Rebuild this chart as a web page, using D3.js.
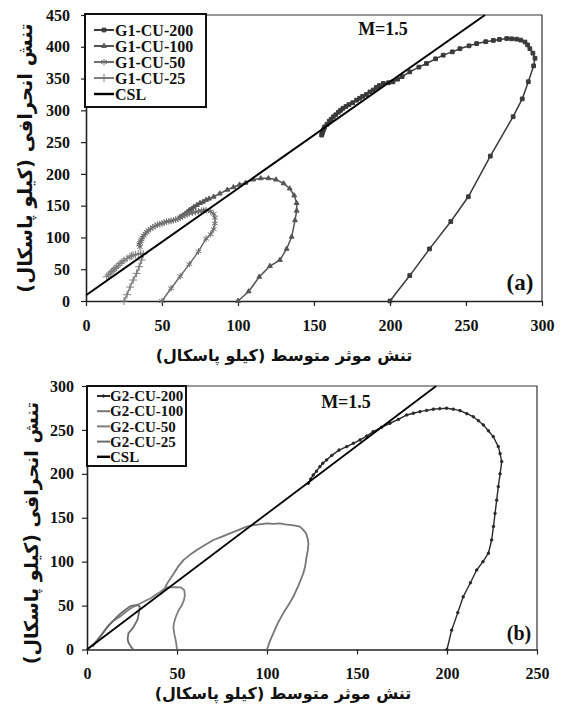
<!DOCTYPE html>
<html>
<head>
<meta charset="utf-8">
<script src="https://cdn.jsdelivr.net/npm/d3@7"></script>
<style>
  html, body { margin: 0; padding: 0; background: #fff; }
  svg { display: block; }
  .tick text { font-family: "Liberation Serif", "Times New Roman", serif; font-weight: bold; font-size: 16px; fill: #111; }
  .fa { font-family: "DejaVu Sans", sans-serif; font-weight: bold; fill: #111; }
  .serif { font-family: "Liberation Serif", "Times New Roman", serif; font-weight: bold; fill: #111; }
</style>
</head>
<body>
<script>
// ---- Panel (a): G1 undrained tests, p' vs q (kPa) ----
const g1Names = ["G1-CU-200", "G1-CU-100", "G1-CU-50", "G1-CU-25"];
const g1Cu200 = [[200,0],[213,40],[226,82],[240,125],[251.5,164],[266,228],[281,290],[287,318],[291,345],[294.5,370],[295.4,382],[294,390],[292,397],[290.5,403],[288.8,407.5],[286,410.5],[283.3,412],[280,412.5],[276.8,413],[272,411.5],[268,410],[263,408],[257,405],[252,401.5],[246,397],[241,392],[235,386.8],[230,381],[224,373.7],[219,368],[213,360.5],[208,353],[205,349],[202,344.8],[199,343.5],[195.6,342.3],[193,339],[191,336],[189,332],[186.8,329],[184.5,325],[182,322],[180,319],[178,316],[175.5,312],[173,309],[171,306],[169,303],[167.5,300],[166,297],[164.3,293],[162.7,289.8],[161.3,286],[160,283],[158.5,278],[157,274],[156.5,271],[156,268],[155.5,264],[155,261]];
const g1Cu100 = [[100,0],[107,15],[114,38],[121,55],[127.6,64.5],[132,82],[135.3,101],[137.5,127],[138.6,142],[138.6,154],[137,166],[134,177],[130,185],[125,191],[120,193],[115,193],[110,191],[105,186],[101,183],[97,179],[93,175],[88,169],[84,164],[81,161],[79,159],[77,156],[75,154],[73,151],[71,148],[69.5,145],[68,143],[66.5,140],[65,137],[63.5,134.5],[62,132]];
const g1Cu50 = [[50,0],[56,20],[62,39],[68,58],[74,78],[79,98],[82,105],[84,113],[84.8,122],[84.8,131],[84,137],[82,141],[79,143],[77.5,142.5],[76,142],[74,141],[72,140],[70,139],[68,138],[66.5,136.5],[65,135],[63.5,133],[62,131],[60.5,129.5],[59,128],[57.5,127],[56,126],[54.5,125.5],[53,125],[51.5,123.5],[50,122],[48.5,121],[47,120],[45.5,118],[44,116],[42.5,113.5],[41,111],[40,108.5],[39,106],[38,103],[37,100],[36.5,97],[36,94],[35.5,91.5],[35,89],[35.5,85]];
const g1Cu25 = [[25,0],[27,10],[29,22],[31,33],[33.3,43.5],[35,54],[36.6,64.5],[37.7,74],[36,75],[34.4,74],[32.5,73],[31,72],[30,71],[28.9,69.7],[27,67],[25,64],[23.7,61.5],[22.4,59],[21.2,56],[20,53],[19,51],[18,48.7],[17,46.5],[16,44],[14.8,41],[13.6,38]];
const g1Csl = [[0,9],[262.5,450]];

// ---- Panel (b): G2 undrained tests ----
const g2Names = ["G2-CU-200", "G2-CU-100", "G2-CU-50", "G2-CU-25"];
const g2Cu200 = [[200,0],[202.6,22],[206,42],[209,60],[213,76],[216.5,90.5],[220,100],[223,109.6],[224.8,124.7],[225.8,140],[226.7,155],[227.6,170],[228.5,185.4],[229.5,200],[230.4,213.9],[229.5,223],[228.5,231],[225.7,242.4],[223,249],[220.2,255.7],[217.5,260.5],[214.6,265],[211,268.5],[207.2,272],[203.5,273.6],[199.8,274.7],[196,274.2],[192.4,273.6],[188.7,272.2],[185,270.8],[181.3,269],[177.6,267],[173,262],[168.3,257.6],[163.6,253],[159,248],[155.4,243],[151.7,238.6],[148,234.8],[144.3,231],[140,227],[136,221],[133.1,215.8],[131,212],[129.4,208.2],[127.5,203],[125.7,198.7],[124.3,194],[123,189.3]];
const g2Cu100 = [[100,0],[101.5,9],[103.5,18.4],[106,30],[109,41.2],[112,51],[114.6,60],[117.5,73],[120.2,86.8],[121.3,96],[122,105.7],[122.7,113],[123,121],[122.5,127],[121.7,132.3],[120,136.5],[118.3,139.9],[115.5,141],[112.8,141.8],[110,142.5],[107.2,143.7],[103.5,143],[99.8,143.7],[96,142.5],[92.5,141.5],[88.7,139.9],[84,136],[79.4,132.3],[75,128.5],[70.2,124.7],[65.5,119],[61,113.3],[57,107.5],[53.7,102],[50.5,94],[48.3,86.8],[46.5,81],[44.6,75.4],[42.8,67.8],[41,63]];
const g2Cu50 = [[50,0],[49.5,8],[48.5,18],[48,25],[48.3,30],[49.3,37],[51,45],[52.6,50],[53.9,56.4],[54.4,62],[54,67.8],[52,70.8],[48.5,71],[44.6,70.8],[42.5,68.5],[40.9,65.8],[38,62],[35.4,58.3],[32.5,55.5],[29.8,52.6],[27,50],[24,46.5],[20.6,41.2],[18.7,38],[16.8,35.5],[15,33],[13.2,29.8],[11.2,25],[9.4,20.3],[7.5,15.5],[5.7,10.8],[3.8,6.5],[2,3.2],[0.5,0.5]];
const g2Cu25 = [[25.7,0],[24.5,3],[23,8],[22.6,12],[23,18.5],[24.5,22],[26,26],[27,30],[28,33.6],[28.6,39],[29,45],[29.4,48.8],[28,50.3],[26,50.3],[24.3,49.5],[21.5,45.5],[18.7,41],[16.8,37.5],[15,33.6],[13,29.5],[11.3,26],[9.3,20],[7.4,14.6],[5,8.5],[3,3]];
const g2Csl = [[0,0],[194,300]];

const xTicksA = [0, 50, 100, 150, 200, 250, 300];
const yTicksA = [0, 50, 100, 150, 200, 250, 300, 350, 400, 450];
const xTicksB = [0, 50, 100, 150, 200, 250];
const yTicksB = [0, 50, 100, 150, 200, 250, 300];

const xTitle = "تنش موثر متوسط (کیلو پاسکال)";
const yTitle = "تنش انحرافی (کیلو پاسکال)";
const slopeText = "M=1.5";

const svg = d3.select("body").append("svg").attr("width", 563).attr("height", 710);

function drawPanel(cfg) {
  const x = d3.scaleLinear().domain(cfg.xDomain).range([cfg.left, cfg.right]);
  const y = d3.scaleLinear().domain(cfg.yDomain).range([cfg.bottom, cfg.top]);
  const g = svg.append("g");

  // frame (top + right)
  g.append("path")
    .attr("d", `M${cfg.left},${cfg.top}H${cfg.right}V${cfg.bottom}`)
    .attr("fill", "none").attr("stroke", "#333").attr("stroke-width", 1.2);

  const xAxis = g.append("g").attr("transform", `translate(0,${cfg.bottom})`)
    .call(d3.axisBottom(x).tickValues(cfg.xTicks).tickSize(5).tickPadding(cfg.xPad).tickSizeOuter(0));
  const yAxis = g.append("g").attr("transform", `translate(${cfg.left},0)`)
    .call(d3.axisLeft(y).tickValues(cfg.yTicks).tickSize(5).tickPadding(cfg.yPad).tickSizeOuter(0));
  [xAxis, yAxis].forEach(a => {
    a.select(".domain").attr("stroke", "#222").attr("stroke-width", 1.6);
    a.selectAll(".tick line").attr("stroke", "#222").attr("stroke-width", 1.2);
  });

  const line = d3.line().x(d => x(d[0])).y(d => y(d[1]));
  const plot = g.append("g");

  cfg.series.forEach(s => {
    plot.append("path").datum(s.data)
      .attr("d", line).attr("fill", "none")
      .attr("stroke", s.color).attr("stroke-width", s.width)
      .attr("stroke-linejoin", "round");
    if (s.symbol) {
      const sym = d3.symbol().type(s.symbol).size(s.size);
      plot.selectAll(null).data(s.data).join("path")
        .attr("transform", d => `translate(${x(d[0])},${y(d[1])})`)
        .attr("d", sym)
        .attr("fill", s.filled ? s.color : "none")
        .attr("stroke", s.color).attr("stroke-width", 1);
    }
  });

  // critical state line
  plot.append("path").datum(cfg.csl).attr("d", line)
    .attr("fill", "none").attr("stroke", "#000").attr("stroke-width", cfg.cslWidth);

  // legend
  const L = cfg.legend;
  g.append("rect").attr("x", L.x).attr("y", L.y).attr("width", L.w).attr("height", L.h)
    .attr("fill", "#fff").attr("stroke", "#111").attr("stroke-width", 2);
  const items = cfg.series.map(s => s).concat([{ name: "CSL", color: "#000", width: 2.2 }]);
  items.forEach((s, i) => {
    const cy = L.row0 + i * L.step;
    g.append("line").attr("x1", L.lx1).attr("x2", L.lx2).attr("y1", cy).attr("y2", cy)
      .attr("stroke", s.color).attr("stroke-width", s.name === "CSL" ? 2.4 : 2);
    if (s.symbol) {
      g.append("path").attr("transform", `translate(${(L.lx1 + L.lx2) / 2},${cy})`)
        .attr("d", d3.symbol().type(s.symbol).size(s.size))
        .attr("fill", s.filled ? s.color : "none").attr("stroke", s.color).attr("stroke-width", 1);
    }
    g.append("text").attr("class", "serif").attr("x", L.tx).attr("y", cy)
      .attr("dy", "0.35em").attr("font-size", L.font).text(s.name);
  });

  g.append("text").attr("class", "serif").attr("x", cfg.mPos[0]).attr("y", cfg.mPos[1])
    .attr("text-anchor", "middle").attr("dy", "0.35em").attr("font-size", 18).text(slopeText);
  g.append("text").attr("class", "serif").attr("x", cfg.tagPos[0]).attr("y", cfg.tagPos[1])
    .attr("text-anchor", "middle").attr("dy", "0.35em").attr("font-size", cfg.tagFont).text(cfg.tag);

  g.append("text").attr("class", "fa").attr("direction", "rtl")
    .attr("x", cfg.xTitlePos[0]).attr("y", cfg.xTitlePos[1])
    .attr("text-anchor", "middle").attr("dy", "0.35em").attr("font-size", cfg.titleFont).text(xTitle);
  g.append("text").attr("class", "fa").attr("direction", "rtl")
    .attr("transform", `translate(${cfg.yTitlePos[0]},${cfg.yTitlePos[1]}) rotate(-90)`)
    .attr("text-anchor", "middle").attr("dy", "0.35em").attr("font-size", cfg.yTitleFont).text(yTitle);
}

drawPanel({
  xDomain: [0, 300], yDomain: [0, 450],
  left: 86, right: 542, top: 15, bottom: 301,
  xTicks: xTicksA, yTicks: yTicksA, xPad: 14, yPad: 11,
  series: [
    { name: g1Names[0], data: g1Cu200, color: "#3a3a3a", width: 1.5, symbol: d3.symbolSquare, size: 14, filled: true },
    { name: g1Names[1], data: g1Cu100, color: "#555", width: 1.5, symbol: d3.symbolTriangle, size: 10, filled: true },
    { name: g1Names[2], data: g1Cu50, color: "#6e6e6e", width: 1.5, symbol: d3.symbolAsterisk, size: 30, filled: false },
    { name: g1Names[3], data: g1Cu25, color: "#7d7d7d", width: 1.5, symbol: d3.symbolPlus, size: 22, filled: false }
  ],
  csl: g1Csl, cslWidth: 2,
  legend: { x: 85, y: 14, w: 121, h: 93, row0: 30, step: 16, lx1: 94, lx2: 114, tx: 115, font: 16 },
  mPos: [383, 29], tag: "(a)", tagPos: [520, 282], tagFont: 23,
  xTitlePos: [284, 355], yTitlePos: [25, 158], titleFont: 16, yTitleFont: 19.5
});

drawPanel({
  xDomain: [0, 250], yDomain: [0, 300],
  left: 87, right: 537, top: 386, bottom: 649.5,
  xTicks: xTicksB, yTicks: yTicksB, xPad: 13, yPad: 8,
  series: [
    { name: g2Names[0], data: g2Cu200, color: "#2a2a2a", width: 1.4, symbol: d3.symbolCircle, size: 5, filled: true },
    { name: g2Names[1], data: g2Cu100, color: "#767676", width: 1.8 },
    { name: g2Names[2], data: g2Cu50, color: "#7e7e7e", width: 1.8 },
    { name: g2Names[3], data: g2Cu25, color: "#6a6a6a", width: 1.8 }
  ],
  csl: g2Csl, cslWidth: 1.8,
  legend: { x: 87, y: 386, w: 99, h: 80, row0: 396, step: 15.2, lx1: 97, lx2: 110, tx: 110, font: 15 },
  mPos: [346, 402], tag: "(b)", tagPos: [519, 633], tagFont: 20,
  xTitlePos: [283, 693], yTitlePos: [31, 533], titleFont: 16, yTitleFont: 19
});
</script>
</body>
</html>
